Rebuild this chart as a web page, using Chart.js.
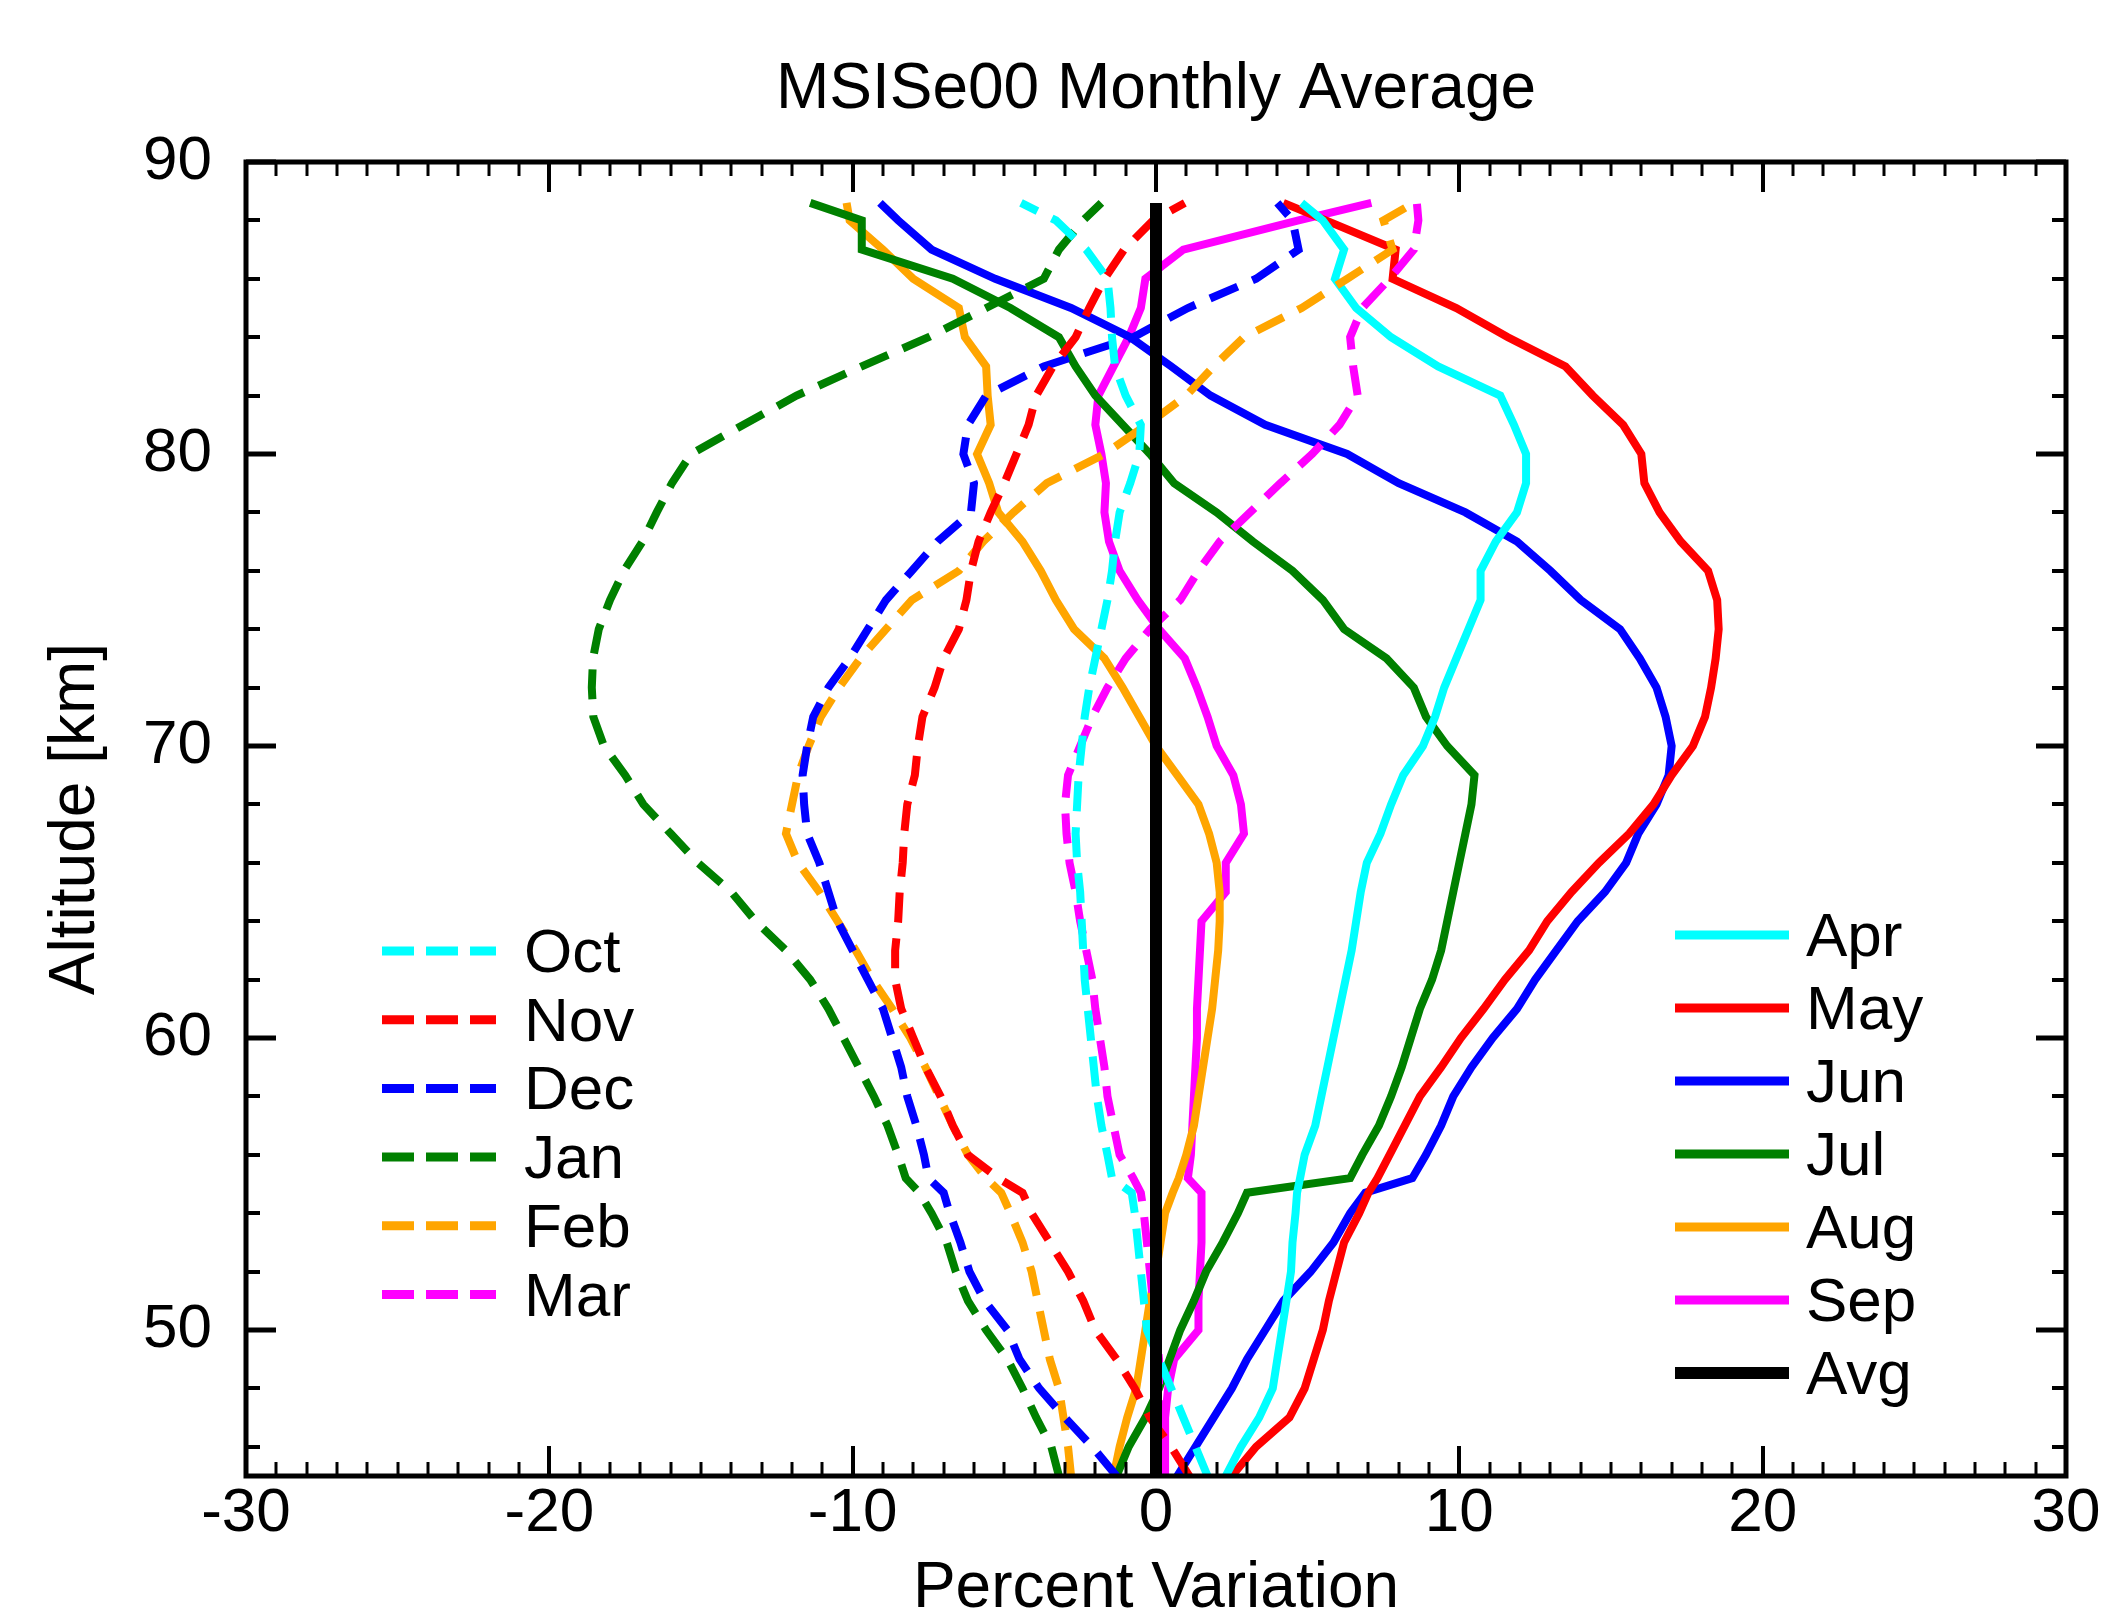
<!DOCTYPE html>
<html><head><meta charset="utf-8">
<script src="https://cdn.jsdelivr.net/npm/chart.js@4.4.0/dist/chart.umd.min.js"></script>
<style>html,body{margin:0;padding:0;background:#fff;}canvas{display:block;}</style>
</head><body>
<canvas id="c" width="2104" height="1615" style="width:2104px;height:1615px"></canvas>
<script>
// Altitude grid (km)
const altitudes = [45,46,47,48,49,50,51,52,53,54,54.7,55.2,56,57,58,59,60,61,62,63,64,65,66,67,68,69,70,71,72,73,74,75,76,77,78,79,80,81,82,83,84,85,86,87,88,88.6];
// Percent variation per month, at each altitude
const oct = [1.7,1.3,0.9,0.5,0.1,-0.3,-0.4,-0.5,-0.6,-0.7,-0.8,-1.45,-1.6,-1.8,-1.95,-2.05,-2.15,-2.25,-2.35,-2.4,-2.45,-2.5,-2.6,-2.65,-2.6,-2.55,-2.45,-2.35,-2.2,-2.0,-1.8,-1.6,-1.45,-1.35,-1.2,-0.85,-0.55,-0.5,-1.0,-1.35,-1.45,-1.5,-1.6,-2.3,-3.3,-4.45];
const nov = [1.1,0.5,-0.2,-0.7,-1.3,-2.0,-2.4,-2.9,-3.5,-4.1,-4.4,-5.2,-6.2,-6.7,-7.1,-7.6,-8.0,-8.4,-8.6,-8.6,-8.5,-8.45,-8.35,-8.3,-8.2,-7.95,-7.85,-7.7,-7.3,-7.0,-6.5,-6.25,-6.1,-5.85,-5.45,-5.0,-4.6,-4.2,-3.95,-3.4,-2.65,-2.2,-1.7,-1.05,-0.1,0.95];
const dec = [-1.3,-2.1,-3.0,-3.85,-4.5,-4.9,-5.65,-6.15,-6.45,-6.8,-7.0,-7.5,-7.65,-7.9,-8.2,-8.4,-8.7,-9.0,-9.5,-10.0,-10.5,-10.8,-11.1,-11.5,-11.6,-11.65,-11.5,-11.3,-10.8,-10.1,-9.5,-8.9,-8.05,-7.2,-6.1,-6.0,-6.35,-6.2,-5.6,-3.7,-0.75,1.05,3.3,4.7,4.5,4.0];
const jan = [-3.2,-3.45,-3.95,-4.4,-4.9,-5.6,-6.2,-6.6,-6.9,-7.4,-7.8,-8.25,-8.5,-8.85,-9.3,-9.8,-10.3,-10.8,-11.4,-12.2,-13.2,-14.0,-15.1,-16.0,-16.9,-17.5,-18.2,-18.55,-18.6,-18.56,-18.37,-18.0,-17.54,-16.93,-16.46,-15.96,-15.33,-13.6,-11.85,-9.7,-7.5,-5.6,-3.7,-3.2,-2.4,-1.8];
const feb = [-2.8,-2.9,-3.05,-3.2,-3.5,-3.7,-3.9,-4.1,-4.4,-4.8,-5.1,-5.6,-6.2,-6.7,-7.15,-7.6,-8.1,-8.7,-9.35,-9.9,-10.5,-11.1,-11.8,-12.2,-12.0,-11.8,-11.45,-11.05,-10.45,-9.75,-8.9,-8.05,-6.5,-5.7,-4.7,-3.6,-1.7,-0.3,1.0,1.9,2.9,4.8,6.3,7.8,7.5,8.5];
const mar = [0.3,0.2,0.1,0.1,0.1,0.0,-0.1,-0.2,-0.3,-0.4,-0.5,-0.75,-1.2,-1.4,-1.6,-1.7,-1.85,-2.0,-2.1,-2.3,-2.5,-2.65,-2.85,-2.95,-3.0,-2.9,-2.5,-2.1,-1.6,-1.0,-0.2,0.8,1.4,2.1,3.1,4.1,5.15,6.05,6.65,6.5,6.4,6.8,7.7,8.5,8.65,8.6];
const apr = [2.3,2.8,3.4,3.85,4.0,4.15,4.3,4.45,4.5,4.6,4.65,4.75,4.9,5.25,5.45,5.65,5.85,6.05,6.25,6.45,6.6,6.75,6.95,7.4,7.75,8.15,8.8,9.2,9.5,9.9,10.3,10.7,10.7,11.2,11.9,12.2,12.2,11.8,11.35,9.3,7.75,6.6,5.9,6.2,5.5,4.8];
const may = [2.5,3.3,4.4,4.9,5.2,5.5,5.7,5.95,6.2,6.7,7.0,7.3,7.7,8.2,8.7,9.4,10.05,10.8,11.5,12.3,12.9,13.7,14.6,15.6,16.4,17.0,17.7,18.1,18.3,18.45,18.55,18.5,18.2,17.3,16.6,16.1,16.0,15.4,14.4,13.5,11.6,9.9,7.8,7.9,5.6,4.2];
const jun = [0.7,1.3,1.9,2.5,3.0,3.6,4.2,5.1,5.85,6.4,6.9,8.45,8.9,9.4,9.8,10.4,11.1,11.9,12.5,13.2,13.9,14.8,15.5,15.9,16.5,16.9,17.0,16.8,16.5,15.95,15.3,14.0,13.0,11.9,10.2,8.0,6.3,3.6,1.8,0.5,-0.85,-2.8,-5.3,-7.4,-8.5,-9.1];
const jul = [-1.3,-0.9,-0.35,0.1,0.45,0.8,1.25,1.65,2.2,2.7,3.0,6.4,6.8,7.35,7.75,8.1,8.4,8.7,9.1,9.4,9.6,9.8,10.0,10.2,10.4,10.5,9.6,8.9,8.5,7.6,6.2,5.5,4.5,3.2,2.0,0.6,-0.2,-1.1,-2.0,-2.65,-3.2,-4.8,-6.7,-9.7,-9.7,-11.4];
const aug = [-1.4,-1.2,-0.95,-0.65,-0.5,-0.35,-0.2,0.0,0.15,0.3,0.55,0.75,1.0,1.25,1.4,1.55,1.7,1.85,1.95,2.05,2.1,2.1,2.0,1.75,1.4,0.7,0.0,-0.55,-1.1,-1.7,-2.7,-3.3,-3.8,-4.4,-5.2,-5.5,-5.9,-5.45,-5.55,-5.6,-6.3,-6.5,-8.0,-9.0,-10.1,-10.2];
const sep = [0.3,0.3,0.3,0.4,0.6,1.4,1.4,1.45,1.5,1.5,1.5,1.05,1.15,1.2,1.25,1.3,1.35,1.35,1.4,1.45,1.5,2.3,2.3,2.9,2.8,2.55,2.0,1.7,1.35,0.95,0.1,-0.6,-1.2,-1.55,-1.7,-1.65,-1.8,-2.0,-1.9,-1.4,-0.9,-0.5,-0.35,0.9,4.7,7.1];
const avg = [0,0,0,0,0,0,0,0,0,0,0,0,0,0,0,0,0,0,0,0,0,0,0,0,0,0,0,0,0,0,0,0,0,0,0,0,0,0,0,0,0,0,0,0,0,0];

const xTickValues = [-30,-20,-10,0,10,20,30];
const yTickValues = [50,60,70,80,90];

const leftMonths = ['Oct','Nov','Dec','Jan','Feb','Mar'];
const rightMonths = ['Apr','May','Jun','Jul','Aug','Sep','Avg'];
const seriesValues = {Oct:oct,Nov:nov,Dec:dec,Jan:jan,Feb:feb,Mar:mar,Apr:apr,May:may,Jun:jun,Jul:jul,Aug:aug,Sep:sep,Avg:avg};
const seriesColors = {Oct:'#00FFFF',Nov:'#FF0000',Dec:'#0000FF',Jan:'#008000',Feb:'#FFA500',Mar:'#FF00FF',
  Apr:'#00FFFF',May:'#FF0000',Jun:'#0000FF',Jul:'#008000',Aug:'#FFA500',Sep:'#FF00FF',Avg:'#000000'};

const DASH = [30,16];
function makeDataset(name, dashed){
  const vals = seriesValues[name];
  const isAvg = name === 'Avg';
  return {
    label: name,
    data: altitudes.map((a,i)=>({x: vals[i], y: a})),
    showLine: true,
    borderColor: seriesColors[name],
    backgroundColor: seriesColors[name],
    borderWidth: isAvg ? 12 : 8,
    borderDash: dashed ? DASH : [],
    pointRadius: 0,
    tension: 0,
    fill: false,
    order: isAvg ? 0 : 1,
    _dashed: dashed,
    _side: leftMonths.includes(name) ? 'left' : 'right'
  };
}
const datasets = [
  ...leftMonths.map(m=>makeDataset(m,true)),
  ...rightMonths.map(m=>makeDataset(m,false))
];

const FONT = "'Liberation Sans', Arial, Helvetica, sans-serif";
Chart.defaults.font.family = FONT;
Chart.defaults.color = '#000';

const frameTicks = {
  id: 'frameTicks',
  afterDatasetsDraw(chart){
    const {ctx, chartArea:a, scales:{x,y}} = chart;
    ctx.save();
    ctx.strokeStyle = '#000';
    ctx.lineCap = 'butt';
    const seg = (x1,y1,x2,y2)=>{ctx.beginPath();ctx.moveTo(x1,y1);ctx.lineTo(x2,y2);ctx.stroke();};
    for (let v=-30; v<=30; v++){
      const px = Math.round(x.getPixelForValue(v));
      const major = v % 10 === 0;
      const len = major ? 30 : 14;
      ctx.lineWidth = major ? 4 : 3;
      seg(px, a.bottom, px, a.bottom-len);
      seg(px, a.top, px, a.top+len);
    }
    for (let v=46; v<=90; v+=2){
      const py = Math.round(y.getPixelForValue(v));
      const major = v % 10 === 0;
      const len = major ? 30 : 14;
      ctx.lineWidth = major ? 5 : 4;
      seg(a.left, py, a.left+len, py);
      seg(a.right, py, a.right-len, py);
    }
    ctx.lineWidth = 5;
    ctx.strokeRect(a.left, a.top, a.right-a.left, a.bottom-a.top);
    ctx.restore();
  }
};

const customLegend = {
  id: 'customLegend',
  afterDraw(chart){
    const {ctx} = chart;
    ctx.save();
    ctx.font = "62px " + FONT;
    ctx.textBaseline = 'middle';
    ctx.textAlign = 'left';
    ctx.fillStyle = '#000';
    const boxes = {
      left: {x0: 382, x1: 496, tx: 524, y0: 951, dy: 68.7},
      right:{x0: 1675, x1: 1789, tx: 1806, y0: 935, dy: 73}
    };
    const counters = {left:0,right:0};
    chart.data.datasets.forEach(ds=>{
      const b = boxes[ds._side];
      const i = counters[ds._side]++;
      const yy = b.y0 + i*b.dy;
      ctx.strokeStyle = ds.borderColor;
      ctx.lineWidth = ds.label === 'Avg' ? 12 : 9;
      ctx.setLineDash(ds._dashed ? [32,12] : []);
      ctx.beginPath(); ctx.moveTo(b.x0, yy); ctx.lineTo(b.x1, yy); ctx.stroke();
      ctx.setLineDash([]);
      ctx.fillText(ds.label, b.tx, yy + 4);
    });
    ctx.restore();
  }
};

new Chart(document.getElementById('c'), {
  type: 'scatter',
  data: { datasets },
  options: {
    responsive: false,
    devicePixelRatio: 1,
    animation: false,
    layout: { padding: { left: 0, right: 38, top: 0, bottom: 0 } },
    plugins: {
      legend: { display: false },
      tooltip: { enabled: false },
      title: {
        display: true,
        fullSize: false,
        text: 'MSISe00 Monthly Average',
        color: '#000',
        font: { size: 64, weight: 'normal', lineHeight: 1.2 },
        padding: { top: 52, bottom: 33.2 }
      }
    },
    scales: {
      x: {
        type: 'linear', min: -30, max: 30,
        afterBuildTicks: s => { s.ticks = xTickValues.map(v=>({value:v})); },
        afterFit: s => { s.height = 139; s.paddingLeft = 0; s.paddingRight = 0; },
        ticks: { font: { size: 62 }, color: '#000', padding: 1, maxRotation: 0, autoSkip: false },
        grid: { display: false, drawTicks: false },
        border: { display: false },
        title: { display: true, text: 'Percent Variation', color: '#000', font: { size: 64, lineHeight: 0.8 }, padding: { top: 0, bottom: 0 } }
      },
      y: {
        type: 'linear', min: 45, max: 90,
        afterBuildTicks: s => { s.ticks = yTickValues.map(v=>({value:v})); },
        afterFit: s => { s.width = 246; s.paddingTop = 0; s.paddingBottom = 0; },
        ticks: { font: { size: 62 }, color: '#000', padding: 34, autoSkip: false },
        grid: { display: false, drawTicks: false },
        border: { display: false },
        title: { display: true, text: 'Altitude [km]', color: '#000', font: { size: 64, lineHeight: 1 }, padding: { top: 44, bottom: 0 } }
      }
    }
  },
  plugins: [frameTicks, customLegend]
});
</script>
</body></html>
